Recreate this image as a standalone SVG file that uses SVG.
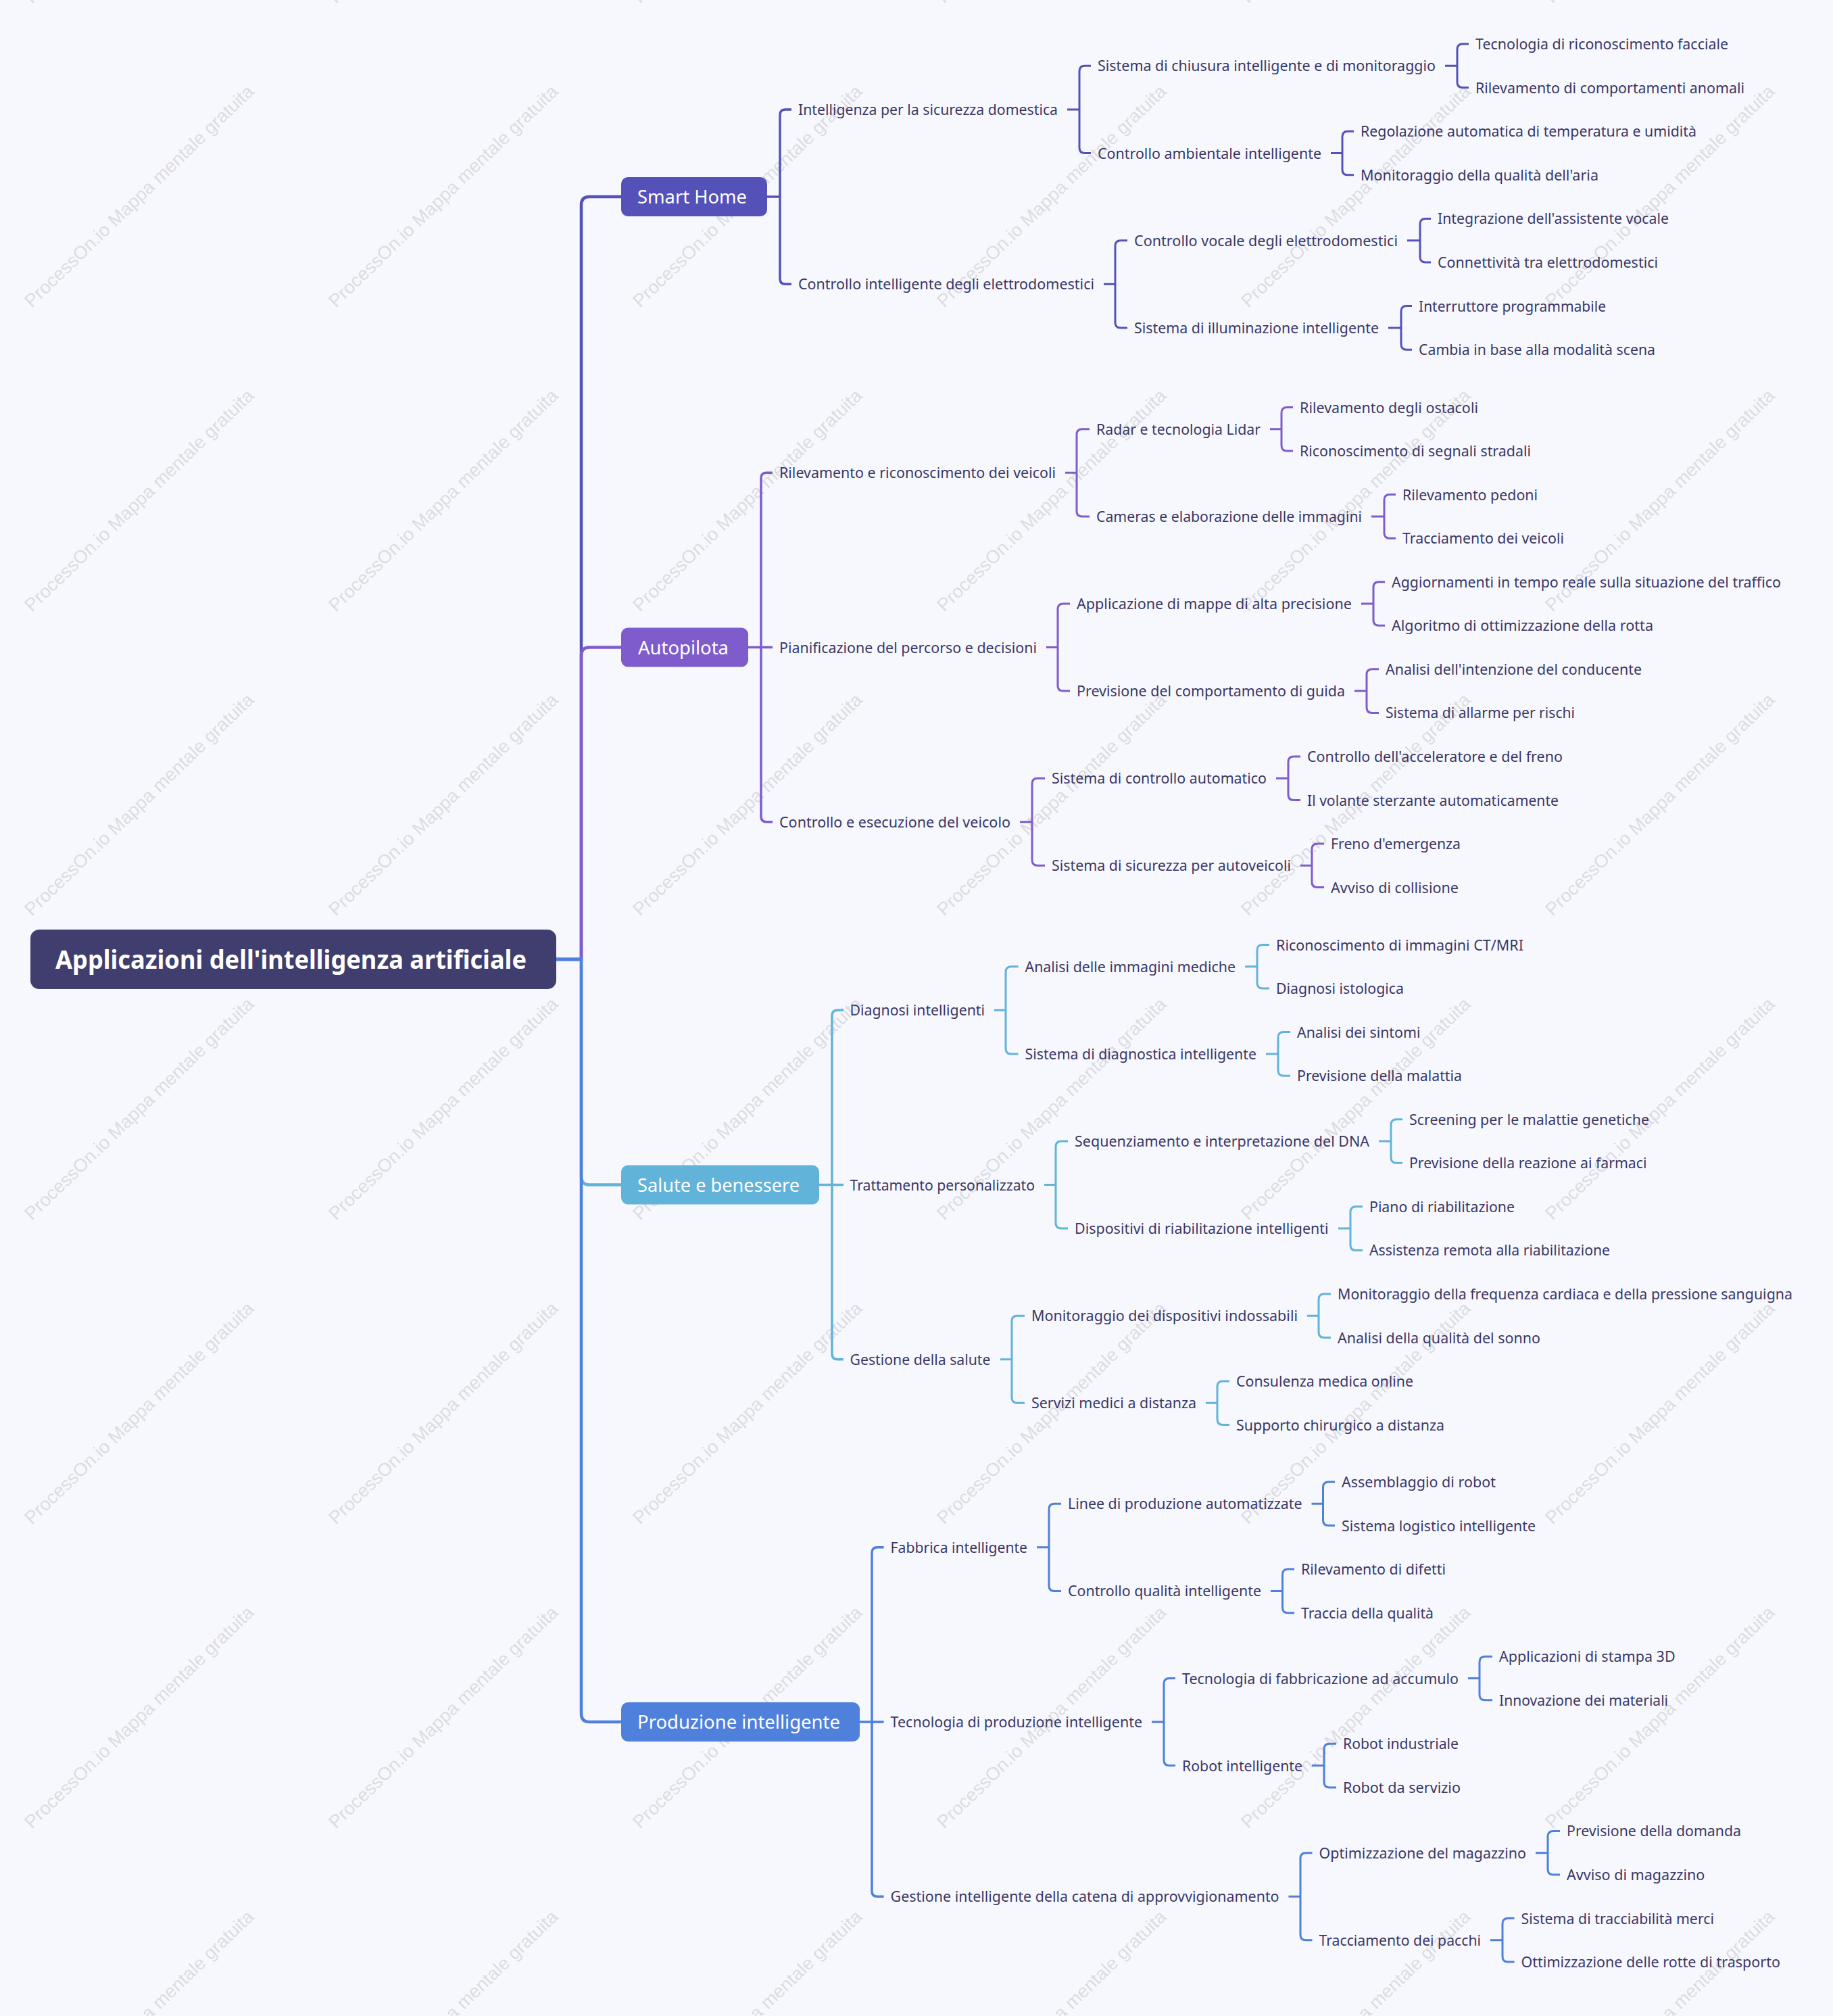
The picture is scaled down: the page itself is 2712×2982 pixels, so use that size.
<svg xmlns="http://www.w3.org/2000/svg" xmlns:xlink="http://www.w3.org/1999/xlink" width="2712" height="2982" viewBox="0 0 2712 2982">
<defs>
<style>
.t{font-family:"Noto Sans","Open Sans","Liberation Sans",sans-serif;font-size:22.5px;fill:#3a3766}
.l1{font-family:"Noto Sans","Open Sans","Liberation Sans",sans-serif;font-size:28px;fill:#ffffff}
.root{font-family:"Noto Sans","Open Sans","Liberation Sans",sans-serif;font-size:38px;font-weight:bold;fill:#ffffff}
.wm{font-family:"Liberation Sans",Arial,sans-serif;font-size:27px;fill:#dcdce2}
.c{fill:none;stroke-width:3;stroke-linejoin:round}
.c0{fill:none;stroke-width:4.5;stroke-linejoin:round}
.cb{fill:none;stroke-width:3.5;stroke-linejoin:round}
.sh{stroke:#5452b8}.ap{stroke:#7f5ccc}.sa{stroke:#61b3d9}.pr{stroke:#4f80dc}
</style>
<text id="wmt" class="wm" x="0" y="0" textLength="459" lengthAdjust="spacingAndGlyphs">ProcessOn.io Mappa mentale gratuita</text>
</defs>
<rect x="0" y="0" width="2712" height="2982" fill="#f7f8fd"/>
<g id="watermark">
<use xlink:href="#wmt" transform="translate(47 6) rotate(-44)"/><use xlink:href="#wmt" transform="translate(497 6) rotate(-44)"/><use xlink:href="#wmt" transform="translate(947 6) rotate(-44)"/><use xlink:href="#wmt" transform="translate(1397 6) rotate(-44)"/><use xlink:href="#wmt" transform="translate(1847 6) rotate(-44)"/><use xlink:href="#wmt" transform="translate(2297 6) rotate(-44)"/>
<use xlink:href="#wmt" transform="translate(47 456) rotate(-44)"/><use xlink:href="#wmt" transform="translate(497 456) rotate(-44)"/><use xlink:href="#wmt" transform="translate(947 456) rotate(-44)"/><use xlink:href="#wmt" transform="translate(1397 456) rotate(-44)"/><use xlink:href="#wmt" transform="translate(1847 456) rotate(-44)"/><use xlink:href="#wmt" transform="translate(2297 456) rotate(-44)"/>
<use xlink:href="#wmt" transform="translate(47 906) rotate(-44)"/><use xlink:href="#wmt" transform="translate(497 906) rotate(-44)"/><use xlink:href="#wmt" transform="translate(947 906) rotate(-44)"/><use xlink:href="#wmt" transform="translate(1397 906) rotate(-44)"/><use xlink:href="#wmt" transform="translate(1847 906) rotate(-44)"/><use xlink:href="#wmt" transform="translate(2297 906) rotate(-44)"/>
<use xlink:href="#wmt" transform="translate(47 1356) rotate(-44)"/><use xlink:href="#wmt" transform="translate(497 1356) rotate(-44)"/><use xlink:href="#wmt" transform="translate(947 1356) rotate(-44)"/><use xlink:href="#wmt" transform="translate(1397 1356) rotate(-44)"/><use xlink:href="#wmt" transform="translate(1847 1356) rotate(-44)"/><use xlink:href="#wmt" transform="translate(2297 1356) rotate(-44)"/>
<use xlink:href="#wmt" transform="translate(47 1806) rotate(-44)"/><use xlink:href="#wmt" transform="translate(497 1806) rotate(-44)"/><use xlink:href="#wmt" transform="translate(947 1806) rotate(-44)"/><use xlink:href="#wmt" transform="translate(1397 1806) rotate(-44)"/><use xlink:href="#wmt" transform="translate(1847 1806) rotate(-44)"/><use xlink:href="#wmt" transform="translate(2297 1806) rotate(-44)"/>
<use xlink:href="#wmt" transform="translate(47 2256) rotate(-44)"/><use xlink:href="#wmt" transform="translate(497 2256) rotate(-44)"/><use xlink:href="#wmt" transform="translate(947 2256) rotate(-44)"/><use xlink:href="#wmt" transform="translate(1397 2256) rotate(-44)"/><use xlink:href="#wmt" transform="translate(1847 2256) rotate(-44)"/><use xlink:href="#wmt" transform="translate(2297 2256) rotate(-44)"/>
<use xlink:href="#wmt" transform="translate(47 2706) rotate(-44)"/><use xlink:href="#wmt" transform="translate(497 2706) rotate(-44)"/><use xlink:href="#wmt" transform="translate(947 2706) rotate(-44)"/><use xlink:href="#wmt" transform="translate(1397 2706) rotate(-44)"/><use xlink:href="#wmt" transform="translate(1847 2706) rotate(-44)"/><use xlink:href="#wmt" transform="translate(2297 2706) rotate(-44)"/>
<use xlink:href="#wmt" transform="translate(47 3156) rotate(-44)"/><use xlink:href="#wmt" transform="translate(497 3156) rotate(-44)"/><use xlink:href="#wmt" transform="translate(947 3156) rotate(-44)"/><use xlink:href="#wmt" transform="translate(1397 3156) rotate(-44)"/><use xlink:href="#wmt" transform="translate(1847 3156) rotate(-44)"/><use xlink:href="#wmt" transform="translate(2297 3156) rotate(-44)"/>
</g>
<g id="connectors">
<path class="c0 sh" d="M823 1419H860V303.1Q860 291.1 872 291.1H919"/>
<path class="c0 ap" d="M823 1419H860V969.5Q860 957.5 872 957.5H919"/>
<path class="c0 sa" d="M823 1419H860V1740.5Q860 1752.5 872 1752.5H919"/>
<path class="c0 pr" d="M823 1419H860V2535Q860 2547 872 2547H919"/>
<path class="cb sh" d="M1135 291.1H1154M1171 161.9H1162Q1154 161.9 1154 169.9V412.3Q1154 420.3 1162 420.3H1171"/>
<path class="c sh" d="M1579 161.9H1597M1614 97.3H1605Q1597 97.3 1597 105.3V218.5Q1597 226.5 1605 226.5H1614"/>
<path class="c sh" d="M2138 97.3H2156M2173 65H2164Q2156 65 2156 73V121.6Q2156 129.6 2164 129.6H2173"/>
<path class="c sh" d="M1969 226.5H1986M2003 194.2H1994Q1986 194.2 1986 202.2V250.8Q1986 258.8 1994 258.8H2003"/>
<path class="c sh" d="M1633 420.3H1650M1668 355.7H1658Q1650 355.7 1650 363.7V476.9Q1650 484.9 1658 484.9H1668"/>
<path class="c sh" d="M2082 355.7H2101M2117 323.4H2109Q2101 323.4 2101 331.4V380Q2101 388 2109 388H2117"/>
<path class="c sh" d="M2054 484.9H2073M2089 452.6H2081Q2073 452.6 2073 460.6V509.2Q2073 517.2 2081 517.2H2089"/>
<path class="cb ap" d="M1107 957.5H1143M1143 699.3H1134Q1126 699.3 1126 707.3V1207.7Q1126 1215.7 1134 1215.7H1143"/>
<path class="c ap" d="M1576 699.3H1593M1612 634.8H1601Q1593 634.8 1593 642.8V755.9Q1593 763.9 1601 763.9H1612"/>
<path class="c ap" d="M1879 634.8H1896M1913 602.5H1904Q1896 602.5 1896 610.5V659.1Q1896 667.1 1904 667.1H1913"/>
<path class="c ap" d="M2029 763.9H2048M2065 731.6H2056Q2048 731.6 2048 739.6V788.2Q2048 796.2 2056 796.2H2065"/>
<path class="c ap" d="M1548 957.5H1565M1583 893H1573Q1565 893 1565 901V1014.1Q1565 1022.1 1573 1022.1H1583"/>
<path class="c ap" d="M2014 893H2032M2049 860.7H2040Q2032 860.7 2032 868.7V917.3Q2032 925.3 2040 925.3H2049"/>
<path class="c ap" d="M2004 1022.1H2022M2040 989.8H2030Q2022 989.8 2022 997.8V1046.4Q2022 1054.4 2030 1054.4H2040"/>
<path class="c ap" d="M1509 1215.7H1527M1546 1151.2H1535Q1527 1151.2 1527 1159.2V1272.3Q1527 1280.3 1535 1280.3H1546"/>
<path class="c ap" d="M1888 1151.2H1906M1924 1118.9H1914Q1906 1118.9 1906 1126.9V1175.5Q1906 1183.5 1914 1183.5H1924"/>
<path class="c ap" d="M1924 1280.3H1941M1959 1248H1949Q1941 1248 1941 1256V1304.6Q1941 1312.6 1949 1312.6H1959"/>
<path class="cb sa" d="M1212 1752.5H1248M1248 1494.3H1239Q1231 1494.3 1231 1502.3V2002.7Q1231 2010.7 1239 2010.7H1248"/>
<path class="c sa" d="M1471 1494.3H1488M1506.5 1429.8H1496Q1488 1429.8 1488 1437.8V1550.9Q1488 1558.9 1496 1558.9H1506.5"/>
<path class="c sa" d="M1842 1429.8H1860M1878 1397.5H1868Q1860 1397.5 1860 1405.5V1454.1Q1860 1462.1 1868 1462.1H1878"/>
<path class="c sa" d="M1873 1558.9H1891M1909 1526.6H1899Q1891 1526.6 1891 1534.6V1583.2Q1891 1591.2 1899 1591.2H1909"/>
<path class="c sa" d="M1545 1752.5H1562M1580 1688H1570Q1562 1688 1562 1696V1809.1Q1562 1817.1 1570 1817.1H1580"/>
<path class="c sa" d="M2040 1688H2058M2075 1655.7H2066Q2058 1655.7 2058 1663.7V1712.3Q2058 1720.3 2066 1720.3H2075"/>
<path class="c sa" d="M1980 1817.1H1998M2016 1784.8H2006Q1998 1784.8 1998 1792.8V1841.4Q1998 1849.4 2006 1849.4H2016"/>
<path class="c sa" d="M1480 2010.7H1497M1516 1946.2H1505Q1497 1946.2 1497 1954.2V2067.3Q1497 2075.3 1505 2075.3H1516"/>
<path class="c sa" d="M1934 1946.2H1951M1969 1913.9H1959Q1951 1913.9 1951 1921.9V1970.5Q1951 1978.5 1959 1978.5H1969"/>
<path class="c sa" d="M1784 2075.3H1801M1819 2043H1809Q1801 2043 1801 2051V2099.6Q1801 2107.6 1809 2107.6H1819"/>
<path class="cb pr" d="M1272 2547H1307.6M1307.6 2288.8H1298Q1290 2288.8 1290 2296.8V2797.2Q1290 2805.2 1298 2805.2H1307.6"/>
<path class="c pr" d="M1534 2288.8H1552M1570 2224.3H1560Q1552 2224.3 1552 2232.3V2345.4Q1552 2353.4 1560 2353.4H1570"/>
<path class="c pr" d="M1940.5 2224.3H1957.5M1975 2192H1965.5Q1957.5 2192 1957.5 2200V2248.6Q1957.5 2256.6 1965.5 2256.6H1975"/>
<path class="c pr" d="M1880 2353.4H1897.5M1915 2321.1H1905.5Q1897.5 2321.1 1897.5 2329.1V2377.7Q1897.5 2385.7 1905.5 2385.7H1915"/>
<path class="c pr" d="M1704 2547H1722M1739 2482.5H1730Q1722 2482.5 1722 2490.5V2603.6Q1722 2611.6 1730 2611.6H1739"/>
<path class="c pr" d="M2172 2482.5H2189M2208 2450.2H2197Q2189 2450.2 2189 2458.2V2506.8Q2189 2514.8 2197 2514.8H2208"/>
<path class="c pr" d="M1941 2611.6H1959M1977 2579.3H1967Q1959 2579.3 1959 2587.3V2635.9Q1959 2643.9 1967 2643.9H1977"/>
<path class="c pr" d="M1906.5 2805.2H1924M1941.5 2740.7H1932Q1924 2740.7 1924 2748.7V2861.8Q1924 2869.8 1932 2869.8H1941.5"/>
<path class="c pr" d="M2272 2740.7H2290M2308 2708.4H2298Q2290 2708.4 2290 2716.4V2765Q2290 2773 2298 2773H2308"/>
<path class="c pr" d="M2205 2869.8H2223M2240.5 2837.5H2231Q2223 2837.5 2223 2845.5V2894.1Q2223 2902.1 2231 2902.1H2240.5"/>
</g>
<g id="n-root"><rect x="45" y="1375" width="778" height="88" rx="13" fill="#403e6e"/><text class="root" x="82" y="1433" textLength="697" lengthAdjust="spacingAndGlyphs">Applicazioni dell'intelligenza artificiale</text></g>
<g id="n-sh"><rect x="919" y="262" width="216" height="58" rx="10" fill="#5452b8"/><text class="l1" x="943" y="301" textLength="162" lengthAdjust="spacingAndGlyphs">Smart Home</text></g>
<g id="n-sh-1"><text class="t" x="1181" y="169.9" textLength="384" lengthAdjust="spacingAndGlyphs">Intelligenza per la sicurezza domestica</text></g>
<g id="n-sh-1-1"><text class="t" x="1624" y="105.3" textLength="500" lengthAdjust="spacingAndGlyphs">Sistema di chiusura intelligente e di monitoraggio</text></g>
<g id="n-sh-1-1-1"><text class="t" x="2183" y="73" textLength="374" lengthAdjust="spacingAndGlyphs">Tecnologia di riconoscimento facciale</text></g>
<g id="n-sh-1-1-2"><text class="t" x="2183" y="137.6" textLength="398" lengthAdjust="spacingAndGlyphs">Rilevamento di comportamenti anomali</text></g>
<g id="n-sh-1-2"><text class="t" x="1624" y="234.5" textLength="331" lengthAdjust="spacingAndGlyphs">Controllo ambientale intelligente</text></g>
<g id="n-sh-1-2-1"><text class="t" x="2013" y="202.2" textLength="497" lengthAdjust="spacingAndGlyphs">Regolazione automatica di temperatura e umidità</text></g>
<g id="n-sh-1-2-2"><text class="t" x="2013" y="266.8" textLength="352" lengthAdjust="spacingAndGlyphs">Monitoraggio della qualità dell'aria</text></g>
<g id="n-sh-2"><text class="t" x="1181" y="428.3" textLength="438" lengthAdjust="spacingAndGlyphs">Controllo intelligente degli elettrodomestici</text></g>
<g id="n-sh-2-1"><text class="t" x="1678" y="363.7" textLength="390" lengthAdjust="spacingAndGlyphs">Controllo vocale degli elettrodomestici</text></g>
<g id="n-sh-2-1-1"><text class="t" x="2127" y="331.4" textLength="342" lengthAdjust="spacingAndGlyphs">Integrazione dell'assistente vocale</text></g>
<g id="n-sh-2-1-2"><text class="t" x="2127" y="396" textLength="326" lengthAdjust="spacingAndGlyphs">Connettività tra elettrodomestici</text></g>
<g id="n-sh-2-2"><text class="t" x="1678" y="492.9" textLength="362" lengthAdjust="spacingAndGlyphs">Sistema di illuminazione intelligente</text></g>
<g id="n-sh-2-2-1"><text class="t" x="2099" y="460.6" textLength="277" lengthAdjust="spacingAndGlyphs">Interruttore programmabile</text></g>
<g id="n-sh-2-2-2"><text class="t" x="2099" y="525.2" textLength="350" lengthAdjust="spacingAndGlyphs">Cambia in base alla modalità scena</text></g>
<g id="n-ap"><rect x="919" y="928.5" width="188" height="58" rx="10" fill="#7f5ccc"/><text class="l1" x="944" y="967.5" textLength="134" lengthAdjust="spacingAndGlyphs">Autopilota</text></g>
<g id="n-ap-1"><text class="t" x="1153" y="707.3" textLength="409" lengthAdjust="spacingAndGlyphs">Rilevamento e riconoscimento dei veicoli</text></g>
<g id="n-ap-1-1"><text class="t" x="1622" y="642.8" textLength="243" lengthAdjust="spacingAndGlyphs">Radar e tecnologia Lidar</text></g>
<g id="n-ap-1-1-1"><text class="t" x="1923" y="610.5" textLength="264" lengthAdjust="spacingAndGlyphs">Rilevamento degli ostacoli</text></g>
<g id="n-ap-1-1-2"><text class="t" x="1923" y="675.1" textLength="342" lengthAdjust="spacingAndGlyphs">Riconoscimento di segnali stradali</text></g>
<g id="n-ap-1-2"><text class="t" x="1622" y="771.9" textLength="393" lengthAdjust="spacingAndGlyphs">Cameras e elaborazione delle immagini</text></g>
<g id="n-ap-1-2-1"><text class="t" x="2075" y="739.6" textLength="200" lengthAdjust="spacingAndGlyphs">Rilevamento pedoni</text></g>
<g id="n-ap-1-2-2"><text class="t" x="2075" y="804.2" textLength="239" lengthAdjust="spacingAndGlyphs">Tracciamento dei veicoli</text></g>
<g id="n-ap-2"><text class="t" x="1153" y="965.5" textLength="381" lengthAdjust="spacingAndGlyphs">Pianificazione del percorso e decisioni</text></g>
<g id="n-ap-2-1"><text class="t" x="1593" y="901" textLength="407" lengthAdjust="spacingAndGlyphs">Applicazione di mappe di alta precisione</text></g>
<g id="n-ap-2-1-1"><text class="t" x="2059" y="868.7" textLength="576" lengthAdjust="spacingAndGlyphs">Aggiornamenti in tempo reale sulla situazione del traffico</text></g>
<g id="n-ap-2-1-2"><text class="t" x="2059" y="933.3" textLength="387" lengthAdjust="spacingAndGlyphs">Algoritmo di ottimizzazione della rotta</text></g>
<g id="n-ap-2-2"><text class="t" x="1593" y="1030.1" textLength="397" lengthAdjust="spacingAndGlyphs">Previsione del comportamento di guida</text></g>
<g id="n-ap-2-2-1"><text class="t" x="2050" y="997.8" textLength="379" lengthAdjust="spacingAndGlyphs">Analisi dell'intenzione del conducente</text></g>
<g id="n-ap-2-2-2"><text class="t" x="2050" y="1062.4" textLength="280" lengthAdjust="spacingAndGlyphs">Sistema di allarme per rischi</text></g>
<g id="n-ap-3"><text class="t" x="1153" y="1223.7" textLength="342" lengthAdjust="spacingAndGlyphs">Controllo e esecuzione del veicolo</text></g>
<g id="n-ap-3-1"><text class="t" x="1556" y="1159.2" textLength="318" lengthAdjust="spacingAndGlyphs">Sistema di controllo automatico</text></g>
<g id="n-ap-3-1-1"><text class="t" x="1934" y="1126.9" textLength="378" lengthAdjust="spacingAndGlyphs">Controllo dell'acceleratore e del freno</text></g>
<g id="n-ap-3-1-2"><text class="t" x="1934" y="1191.5" textLength="372" lengthAdjust="spacingAndGlyphs">Il volante sterzante automaticamente</text></g>
<g id="n-ap-3-2"><text class="t" x="1556" y="1288.3" textLength="354" lengthAdjust="spacingAndGlyphs">Sistema di sicurezza per autoveicoli</text></g>
<g id="n-ap-3-2-1"><text class="t" x="1969" y="1256" textLength="192" lengthAdjust="spacingAndGlyphs">Freno d'emergenza</text></g>
<g id="n-ap-3-2-2"><text class="t" x="1969" y="1320.6" textLength="189" lengthAdjust="spacingAndGlyphs">Avviso di collisione</text></g>
<g id="n-sa"><rect x="919" y="1723.5" width="293" height="58" rx="10" fill="#61b3d9"/><text class="l1" x="943" y="1762.5" textLength="240" lengthAdjust="spacingAndGlyphs">Salute e benessere</text></g>
<g id="n-sa-1"><text class="t" x="1257.5" y="1502.3" textLength="199.5" lengthAdjust="spacingAndGlyphs">Diagnosi intelligenti</text></g>
<g id="n-sa-1-1"><text class="t" x="1516.5" y="1437.8" textLength="311.5" lengthAdjust="spacingAndGlyphs">Analisi delle immagini mediche</text></g>
<g id="n-sa-1-1-1"><text class="t" x="1888" y="1405.5" textLength="366" lengthAdjust="spacingAndGlyphs">Riconoscimento di immagini CT/MRI</text></g>
<g id="n-sa-1-1-2"><text class="t" x="1888" y="1470.1" textLength="189" lengthAdjust="spacingAndGlyphs">Diagnosi istologica</text></g>
<g id="n-sa-1-2"><text class="t" x="1516.5" y="1566.9" textLength="342.5" lengthAdjust="spacingAndGlyphs">Sistema di diagnostica intelligente</text></g>
<g id="n-sa-1-2-1"><text class="t" x="1919" y="1534.6" textLength="182.5" lengthAdjust="spacingAndGlyphs">Analisi dei sintomi</text></g>
<g id="n-sa-1-2-2"><text class="t" x="1919" y="1599.2" textLength="244" lengthAdjust="spacingAndGlyphs">Previsione della malattia</text></g>
<g id="n-sa-2"><text class="t" x="1257.5" y="1760.5" textLength="273.5" lengthAdjust="spacingAndGlyphs">Trattamento personalizzato</text></g>
<g id="n-sa-2-1"><text class="t" x="1590" y="1696" textLength="436" lengthAdjust="spacingAndGlyphs">Sequenziamento e interpretazione del DNA</text></g>
<g id="n-sa-2-1-1"><text class="t" x="2085" y="1663.7" textLength="355" lengthAdjust="spacingAndGlyphs">Screening per le malattie genetiche</text></g>
<g id="n-sa-2-1-2"><text class="t" x="2085" y="1728.3" textLength="351.5" lengthAdjust="spacingAndGlyphs">Previsione della reazione ai farmaci</text></g>
<g id="n-sa-2-2"><text class="t" x="1590" y="1825.1" textLength="375.5" lengthAdjust="spacingAndGlyphs">Dispositivi di riabilitazione intelligenti</text></g>
<g id="n-sa-2-2-1"><text class="t" x="2026" y="1792.8" textLength="215" lengthAdjust="spacingAndGlyphs">Piano di riabilitazione</text></g>
<g id="n-sa-2-2-2"><text class="t" x="2026" y="1857.4" textLength="356" lengthAdjust="spacingAndGlyphs">Assistenza remota alla riabilitazione</text></g>
<g id="n-sa-3"><text class="t" x="1257.5" y="2018.7" textLength="208" lengthAdjust="spacingAndGlyphs">Gestione della salute</text></g>
<g id="n-sa-3-1"><text class="t" x="1526" y="1954.2" textLength="394" lengthAdjust="spacingAndGlyphs">Monitoraggio dei dispositivi indossabili</text></g>
<g id="n-sa-3-1-1"><text class="t" x="1979" y="1921.9" textLength="673" lengthAdjust="spacingAndGlyphs">Monitoraggio della frequenza cardiaca e della pressione sanguigna</text></g>
<g id="n-sa-3-1-2"><text class="t" x="1979" y="1986.5" textLength="300" lengthAdjust="spacingAndGlyphs">Analisi della qualità del sonno</text></g>
<g id="n-sa-3-2"><text class="t" x="1526" y="2083.3" textLength="244" lengthAdjust="spacingAndGlyphs">Servizi medici a distanza</text></g>
<g id="n-sa-3-2-1"><text class="t" x="1829" y="2051" textLength="262" lengthAdjust="spacingAndGlyphs">Consulenza medica online</text></g>
<g id="n-sa-3-2-2"><text class="t" x="1829" y="2115.6" textLength="308" lengthAdjust="spacingAndGlyphs">Supporto chirurgico a distanza</text></g>
<g id="n-pr"><rect x="919" y="2518" width="353" height="58" rx="10" fill="#4f80dc"/><text class="l1" x="943" y="2557" textLength="300" lengthAdjust="spacingAndGlyphs">Produzione intelligente</text></g>
<g id="n-pr-1"><text class="t" x="1317.6" y="2296.8" textLength="202.4" lengthAdjust="spacingAndGlyphs">Fabbrica intelligente</text></g>
<g id="n-pr-1-1"><text class="t" x="1580" y="2232.3" textLength="346.5" lengthAdjust="spacingAndGlyphs">Linee di produzione automatizzate</text></g>
<g id="n-pr-1-1-1"><text class="t" x="1985" y="2200" textLength="228" lengthAdjust="spacingAndGlyphs">Assemblaggio di robot</text></g>
<g id="n-pr-1-1-2"><text class="t" x="1985" y="2264.6" textLength="287" lengthAdjust="spacingAndGlyphs">Sistema logistico intelligente</text></g>
<g id="n-pr-1-2"><text class="t" x="1580" y="2361.4" textLength="286" lengthAdjust="spacingAndGlyphs">Controllo qualità intelligente</text></g>
<g id="n-pr-1-2-1"><text class="t" x="1925" y="2329.1" textLength="214" lengthAdjust="spacingAndGlyphs">Rilevamento di difetti</text></g>
<g id="n-pr-1-2-2"><text class="t" x="1925" y="2393.7" textLength="196" lengthAdjust="spacingAndGlyphs">Traccia della qualità</text></g>
<g id="n-pr-2"><text class="t" x="1317.6" y="2555" textLength="372.4" lengthAdjust="spacingAndGlyphs">Tecnologia di produzione intelligente</text></g>
<g id="n-pr-2-1"><text class="t" x="1749" y="2490.5" textLength="409" lengthAdjust="spacingAndGlyphs">Tecnologia di fabbricazione ad accumulo</text></g>
<g id="n-pr-2-1-1"><text class="t" x="2218" y="2458.2" textLength="260.6" lengthAdjust="spacingAndGlyphs">Applicazioni di stampa 3D</text></g>
<g id="n-pr-2-1-2"><text class="t" x="2218" y="2522.8" textLength="250" lengthAdjust="spacingAndGlyphs">Innovazione dei materiali</text></g>
<g id="n-pr-2-2"><text class="t" x="1749" y="2619.6" textLength="178" lengthAdjust="spacingAndGlyphs">Robot intelligente</text></g>
<g id="n-pr-2-2-1"><text class="t" x="1987" y="2587.3" textLength="171" lengthAdjust="spacingAndGlyphs">Robot industriale</text></g>
<g id="n-pr-2-2-2"><text class="t" x="1987" y="2651.9" textLength="174" lengthAdjust="spacingAndGlyphs">Robot da servizio</text></g>
<g id="n-pr-3"><text class="t" x="1317.6" y="2813.2" textLength="575" lengthAdjust="spacingAndGlyphs">Gestione intelligente della catena di approvvigionamento</text></g>
<g id="n-pr-3-1"><text class="t" x="1951.5" y="2748.7" textLength="306.5" lengthAdjust="spacingAndGlyphs">Optimizzazione del magazzino</text></g>
<g id="n-pr-3-1-1"><text class="t" x="2318" y="2716.4" textLength="258" lengthAdjust="spacingAndGlyphs">Previsione della domanda</text></g>
<g id="n-pr-3-1-2"><text class="t" x="2318" y="2781" textLength="204.4" lengthAdjust="spacingAndGlyphs">Avviso di magazzino</text></g>
<g id="n-pr-3-2"><text class="t" x="1951.5" y="2877.8" textLength="239.5" lengthAdjust="spacingAndGlyphs">Tracciamento dei pacchi</text></g>
<g id="n-pr-3-2-1"><text class="t" x="2250.5" y="2845.5" textLength="285.5" lengthAdjust="spacingAndGlyphs">Sistema di tracciabilità merci</text></g>
<g id="n-pr-3-2-2"><text class="t" x="2250.5" y="2910.1" textLength="383.5" lengthAdjust="spacingAndGlyphs">Ottimizzazione delle rotte di trasporto</text></g>
</svg>
